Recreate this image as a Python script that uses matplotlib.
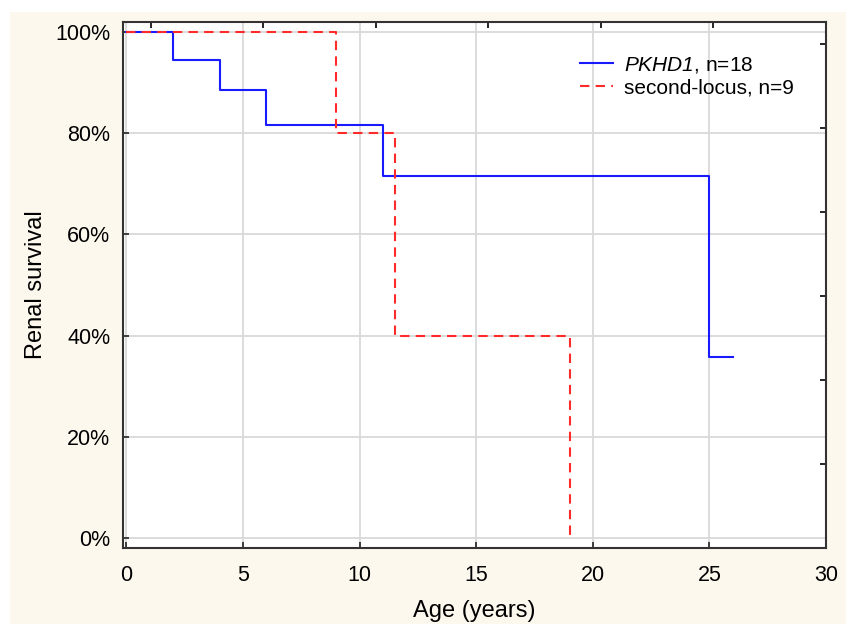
import matplotlib
matplotlib.use("Agg")
import matplotlib.pyplot as plt
from matplotlib.patches import Rectangle
from matplotlib.ticker import FuncFormatter

# Kaplan-Meier step data
pkhd1_t = [0, 2, 4, 6, 11, 25, 26]
pkhd1_s = [100, 94.4, 88.5, 81.7, 71.5, 35.7, 35.7]
second_t = [0, 9, 11.5, 19, 19]
second_s = [100, 80, 40, 0, 0]

x_ticks = [0, 5, 10, 15, 20, 25, 30]
y_ticks = [0, 20, 40, 60, 80, 100]
top_ticks = [1.03, 5.85, 10.68, 15.5, 20.33, 25.15]
right_ticks = [14.6, 31.2, 47.8, 64.4, 81.0, 97.6]

plt.rcParams['font.family'] = ['Liberation Sans', 'DejaVu Sans']
plt.rcParams['mathtext.fontset'] = 'custom'
plt.rcParams['mathtext.it'] = 'Liberation Sans:italic'
plt.rcParams['mathtext.rm'] = 'Liberation Sans:italic'
plt.rcParams['mathtext.default'] = 'it'

cream = '#fdf8ee'
fig = plt.figure(figsize=(8.46, 6.24), dpi=100)
fig.patch.set_facecolor('white')
fig.patches.append(Rectangle((10 / 846, 0), 1 - 10 / 846, 1 - 12 / 624,
                             transform=fig.transFigure, facecolor=cream,
                             edgecolor='none', zorder=-10))

ax = fig.add_axes([123 / 846, 1 - 548 / 624, (826 - 123) / 846, (548 - 22) / 624])
ax.set_facecolor('white')

ax.step(pkhd1_t, pkhd1_s, where='post', color='#1a1aff', lw=1.5,
        label=r'$PKHD1$, n=18')
ax.step(second_t, second_s, where='post', color='#ff2a2a', lw=1.5,
        ls=(0, (4.5, 3)), label='second-locus, n=9')

ax.set_xlim(-0.15, 30)
ax.set_ylim(-2, 102)
ax.set_xticks(x_ticks)
ax.set_yticks(y_ticks)
ax.yaxis.set_major_formatter(FuncFormatter(lambda v, p: f'{int(v)}%'))
ax.grid(True, color='#d9d9d9', lw=1.3)
ax.set_axisbelow(True)

ax.tick_params(direction='in', length=4, width=1.2, labelsize=15.5, colors='#222222')
ax.tick_params(axis='x', pad=12)
ax.tick_params(axis='y', pad=9)
ax.tick_params(axis='both', labelcolor='black')
ax.set_xticks(top_ticks, minor=True)
ax.set_yticks(right_ticks, minor=True)
ax.tick_params(which='minor', bottom=False, left=False, top=True, right=True,
               direction='in', length=4, width=1.2)

for s in ax.spines.values():
    s.set_color('#333333')
    s.set_linewidth(1.5)

ax.set_xlabel('Age (years)', fontsize=17, labelpad=10)
ax.set_ylabel('Renal survival', fontsize=17, labelpad=6)

ax.legend(loc='upper left', bbox_to_anchor=(0.638, 0.954), frameon=False,
          fontsize=15, handlelength=1.6, handletextpad=0.5, labelspacing=0.2,
          borderaxespad=0)

fig.savefig('out.png', dpi=100, facecolor=fig.get_facecolor())
